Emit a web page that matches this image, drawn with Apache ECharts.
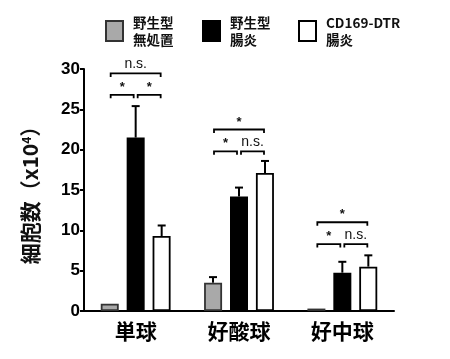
<!DOCTYPE html>
<html><head><meta charset="utf-8">
<script src="https://cdn.jsdelivr.net/npm/echarts@6/dist/echarts.min.js"></script>
<style>html,body{margin:0;padding:0;background:#fff}#c{width:450px;height:359px}</style>
</head><body><div id="c"></div>
<script>
const categories = ['単球', '好酸球', '好中球'];
const seriesNames = ['野生型\n無処置', '野生型\n腸炎', 'CD169-DTR\n腸炎'];
const wtControl = [0.9, 3.5, 0.3];
const wtColitis = [21.5, 14.2, 4.75];
const dtrColitis = [9.3, 17.1, 5.5];
const wtControlErr = [0, 0.7, 0];
const wtColitisErr = [3.9, 1.1, 1.35];
const dtrColitisErr = [1.3, 1.5, 1.4];
const yTicks = [0, 5, 10, 15, 20, 25, 30];
// brackets: [category, fromBar, toBar, level, label]
const brackets = [
  [0, 0, 2, 29.45, 'n.s.'], [0, 0, 1, 26.8, '*'], [0, 1, 2, 26.8, '*'],
  [1, 0, 2, 22.5, '*'], [1, 0, 1, 19.8, '*'], [1, 1, 2, 19.8, 'n.s.'],
  [2, 0, 2, 11.0, '*'], [2, 0, 1, 8.3, '*'], [2, 1, 2, 8.3, 'n.s.']
];

const means = [wtControl, wtColitis, dtrColitis];
const errs = [wtControlErr, wtColitisErr, dtrColitisErr];
const fills = ['#a9a9a9', '#000000', '#ffffff'];
const borders = ['#333333', '#000000', '#000000'];
const BAR_W = 18, STEP = 26;

const chart = echarts.init(document.getElementById('c'));
const errData = [];
means.forEach((arr, s) => arr.forEach((v, i) => { if (errs[s][i] > 0) errData.push([i, v, errs[s][i], s]); }));

const series = seriesNames.map((n, s) => ({
  name: n, type: 'bar', data: means[s], barWidth: BAR_W, barGap: '44%', barMinHeight: 2,
  itemStyle: { color: fills[s], borderColor: borders[s], borderWidth: 1.8 }
}));
series.push({
  type: 'custom', data: errData, z: 1, silent: true,
  renderItem: (params, api) => {
    const c = api.value(0), m = api.value(1), e = api.value(2), s = api.value(3);
    const p0 = api.coord([c, m]), p1 = api.coord([c, m + e]);
    const x = p0[0] + (s - 1) * STEP;
    return { type: 'group', children: [
      { type: 'line', shape: { x1: x, y1: p0[1], x2: x, y2: p1[1] }, style: { stroke: '#000', lineWidth: 2 } },
      { type: 'line', shape: { x1: x - 4, y1: p1[1], x2: x + 4, y2: p1[1] }, style: { stroke: '#000', lineWidth: 2 } }
    ]};
  }
});
series.push({
  type: 'custom', data: brackets, z: 5, silent: true,
  renderItem: (params, api) => {
    const c = api.value(0), a = api.value(1), b = api.value(2), lv = api.value(3);
    const label = brackets[params.dataIndex][4];
    const p = api.coord([c, lv]);
    let x1 = p[0] + (a - 1) * STEP, x2 = p[0] + (b - 1) * STEP;
    if (a === 1) x1 += 2; else x1 += 1;
    if (b === 1) x2 -= 2; else x2 -= 1;
    const y = p[1];
    const isStar = label === '*';
    return { type: 'group', children: [
      { type: 'polyline', shape: { points: [[x1, y + 3.5], [x1, y], [x2, y], [x2, y + 3.5]] }, style: { stroke: '#000', lineWidth: 1.8, fill: null } },
      { type: 'text', x: (x1 + x2) / 2, y: isStar ? y - 1 : y - 2,
        style: { text: label, fill: '#111', font: isStar ? 'bold 13px "Liberation Sans"' : '14px "Liberation Sans"', align: 'center', verticalAlign: 'bottom' } }
    ]};
  }
});

const legendLefts = [100, 197, 293];
chart.setOption({
  animation: false,
  grid: { left: 84, right: 56, top: 69, bottom: 48 },
  legend: seriesNames.map((n, i) => ({
    data: [n], left: legendLefts[i], top: 9, itemWidth: 17, itemHeight: 20,
    icon: 'rect', selectedMode: false,
    textStyle: { fontFamily: 'Noto Sans CJK JP', fontWeight: 'bold', fontSize: 13.5, lineHeight: 17, color: '#111', padding: [0, 0, 0, 5] }
  })),
  xAxis: {
    type: 'category', data: categories,
    axisTick: { show: false },
    axisLine: { lineStyle: { color: '#000', width: 2 } },
    axisLabel: { fontFamily: 'Noto Sans CJK JP', fontWeight: 'bold', fontSize: 21, color: '#000', margin: 10 }
  },
  yAxis: {
    type: 'value', min: 0, max: 30, interval: 5,
    name: '{a|細胞数（x10}{s|4}{a|）}', nameLocation: 'middle', nameRotate: 90, nameGap: 43,
    nameTextStyle: { rich: {
      a: { fontFamily: 'Noto Sans CJK JP', fontWeight: 'bold', fontSize: 21, color: '#111' },
      s: { fontFamily: 'Noto Sans CJK JP', fontWeight: 'bold', fontSize: 12, color: '#111', verticalAlign: 'top', padding: [0, 0, 9, 0] }
    } },
    splitLine: { show: false },
    axisLine: { show: true, lineStyle: { color: '#000', width: 2 } },
    axisTick: { show: true, length: 4, lineStyle: { color: '#000', width: 2 } },
    axisLabel: { fontFamily: 'Liberation Sans', fontWeight: 'bold', fontSize: 17, color: '#000', margin: 4,
      formatter: v => yTicks.includes(v) ? String(v) : '' }
  },
  series
});
</script></body></html>
